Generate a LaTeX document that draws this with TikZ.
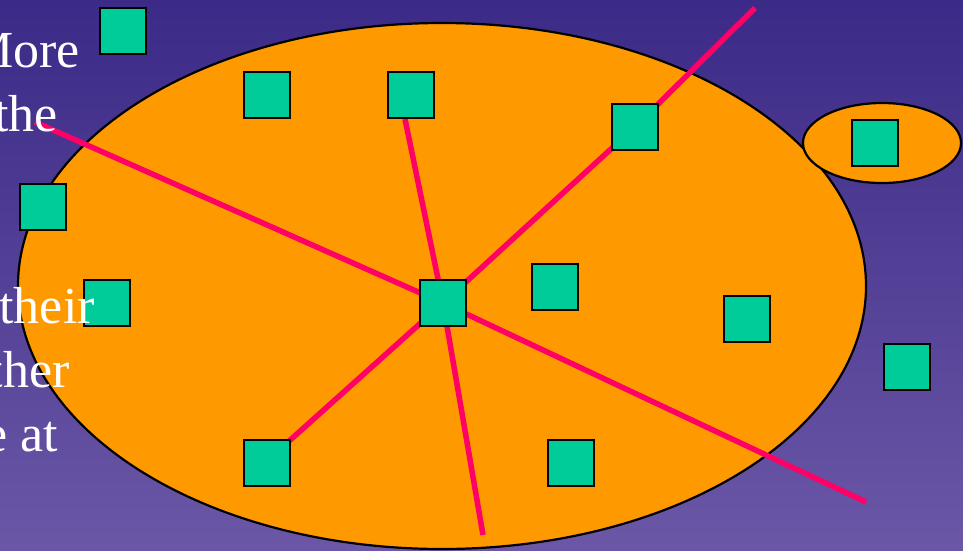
\documentclass[tikz,border=0pt]{standalone}
\usepackage{fontspec}
\setmainfont{Liberation Serif}
\pgfdeclarelayer{back}
\pgfdeclarelayer{mid}
\pgfdeclarelayer{front}
\pgfsetlayers{back,mid,main,front}
\definecolor{bgtop}{HTML}{3B2A87}
\definecolor{bgbot}{HTML}{6B57A6}
\definecolor{orng}{HTML}{FF9900}
\definecolor{teal}{HTML}{00CC99}
\definecolor{redl}{HTML}{FF0066}
\tikzset{
  sq/.style={draw=black, line width=2.6pt, fill=teal, minimum size=46pt, inner sep=0pt, shape=rectangle},
  link/.style={draw=redl, line width=5.5pt},
  oval/.style={draw=black, line width=2.2pt, fill=orng},
  slidetext/.style={text=white, anchor=base east, inner sep=0pt, font=\fontsize{52}{62}\selectfont}
}
\begin{document}
\begin{tikzpicture}[x=1pt,y=-1pt]
\useasboundingbox (0,0) rectangle (963,550);
\clip (0,0) rectangle (963,550);
\begin{pgfonlayer}{back}
\shade[top color=bgtop, bottom color=bgbot] (0,0) rectangle (963,550);
\draw[oval] (442,286) ellipse [x radius=424, y radius=263];
\draw[oval] (882,143) ellipse [x radius=79, y radius=40];
\end{pgfonlayer}
% squares
\node[sq] (s1) at (123,31) {};
\node[sq] (s2) at (267,95) {};
\node[sq] (s3) at (411,95) {};
\node[sq] (s4) at (635,127) {};
\node[sq] (s5) at (875,143) {};
\node[sq] (s6) at (43,207) {};
\node[sq] (s7) at (107,303) {};
\node[sq] (hub) at (443,303) {};
\node[sq] (s9) at (555,287) {};
\node[sq] (s10) at (747,319) {};
\node[sq] (s11) at (907,367) {};
\node[sq] (s12) at (267,463) {};
\node[sq] (s13) at (571,463) {};
% free ends
\coordinate (eUL) at (35,122);
\coordinate (eLR) at (866,502);
\coordinate (eUR) at (755,8);
\coordinate (eB) at (483,535);
\coordinate (eT) at (405,119);
\coordinate (eLL) at (288,442);
\begin{pgfonlayer}{mid}
\draw[link] (eUL) -- (hub.center) -- (eLR);
\draw[link] (eT) -- (hub.center) -- (eB);
\draw[link] (eLL) -- (hub.center) -- (s4.center) -- (eUR);
\end{pgfonlayer}
\begin{pgfonlayer}{front}
\node[slidetext] (t1) at (80,67) {More};
\node[slidetext] (t2) at (58,131) {the};
\node[slidetext] (t3) at (95,323) {their};
\node[slidetext] (t4) at (70,387) {ther};
\node[slidetext] (t5) at (58,451) {e at};
\end{pgfonlayer}
\end{tikzpicture}
\end{document}
